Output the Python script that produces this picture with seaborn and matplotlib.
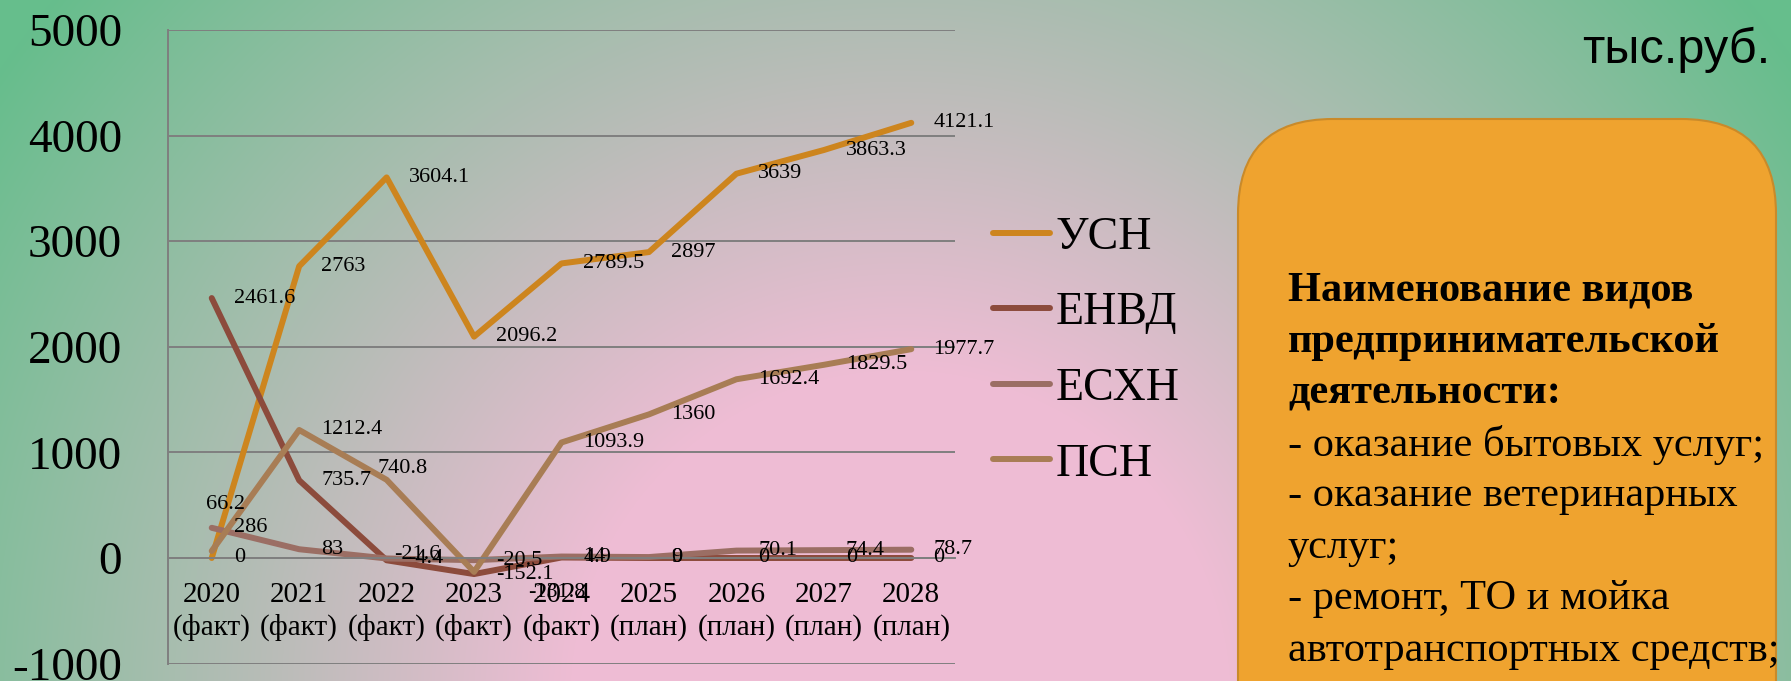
import numpy as np
import pandas as pd
import matplotlib
matplotlib.use("Agg")
import matplotlib.pyplot as plt
from matplotlib.patches import FancyBboxPatch
import seaborn as sns

# === Datos (tыс.руб.) ===
years = ["2020\n(факт)", "2021\n(факт)", "2022\n(факт)", "2023\n(факт)", "2024\n(факт)",
         "2025\n(план)", "2026\n(план)", "2027\n(план)", "2028\n(план)"]
series_names = ["УСН", "ЕНВД", "ЕСХН", "ПСН"]
usn = [0, 2763, 3604.1, 2096.2, 2789.5, 2897, 3639, 3863.3, 4121.1]
envd = [2461.6, 735.7, -21.6, -152.1, 4.9, 0, 0, 0, 0]
eshn = [286, 83, -4.4, -20.5, 14, 9, 70.1, 74.4, 78.7]
psn = [66.2, 1212.4, 740.8, -131.8, 1093.9, 1360, 1692.4, 1829.5, 1977.7]
colors = ["#CD851E", "#8C4B3C", "#9B6E64", "#A87D55"]

box_title = ["Наименование видов", "предпринимательской", "деятельности:"]
box_lines = ["- оказание бытовых услуг;", "- оказание ветеринарных", "услуг;",
             "- ремонт, ТО и мойка", "автотранспортных средств;"]
unit_text = "тыс.руб."

df = pd.DataFrame({
    "pos": list(range(len(years))) * 4,
    "value": usn + envd + eshn + psn,
    "series": np.repeat(series_names, len(years)),
})

W, H = 1791, 681
sns.set_style("white")
plt.rcParams["font.family"] = ["Liberation Serif", "DejaVu Serif"]
plt.rcParams["text.color"] = "black"
plt.rcParams["axes.unicode_minus"] = False

fig = plt.figure(figsize=(W / 100, H / 100), dpi=100)

# === Fondo degradado ===
ax_bg = fig.add_axes([0, 0, 1, 1])
yy, xx = np.mgrid[0:H, 0:W]
t = np.sqrt((xx - 900) ** 2 + (yy - 700) ** 2) / 1100
s = np.clip((t - 0.3) / 0.7, 0, 1)[..., None]
pink = np.array([238, 188, 212]) / 255
green = np.array([102, 190, 140]) / 255
grad = pink * (1 - s) + green * s
ax_bg.imshow(grad, extent=(0, W, H, 0), aspect="auto")
ax_bg.set_xlim(0, W)
ax_bg.set_ylim(H, 0)
ax_bg.axis("off")

box = FancyBboxPatch((1238, 119), 538, 800, boxstyle="round,pad=0,rounding_size=95",
                     facecolor="#EFA32F", edgecolor="#C98A2A", linewidth=1.5)
ax_bg.add_patch(box)
for i, line in enumerate(box_title + box_lines):
    ax_bg.text(1288, 286 + i * 51.4, line, fontsize=30.5, va="center_baseline",
               fontweight="bold" if i < len(box_title) else "normal")
ax_bg.text(1770, 50, unit_text, fontsize=35, ha="right", va="center",
           family=["Liberation Sans", "DejaVu Sans"])

# === Gráfico ===
ax = fig.add_axes([168 / W, 17.4 / H, (955 - 168) / W, (651 - 17.4) / H])
ax.patch.set_alpha(0)
sns.lineplot(data=df, x="pos", y="value", hue="series", palette=colors,
             linewidth=4.3, ax=ax, sort=False)
for ln in ax.lines:
    ln.set_solid_capstyle("round")
    ln.set_solid_joinstyle("round")

ax.set_xlim(-0.5, len(years) - 0.5)
ax.set_ylim(-1000, 5000)
ax.set_yticks(range(-1000, 5001, 1000))
ax.set_xticks(range(len(years)), labels=years)
ax.set_xticks(np.arange(-0.5, len(years)), minor=True)
ax.set_xlabel("")
ax.set_ylabel("")
ax.grid(axis="y", color="#7F7F7F", linewidth=1.4)
ax.grid(axis="x", visible=False)
for side in ["top", "right"]:
    ax.spines[side].set_visible(False)
ax.spines["left"].set_color("#7F7F7F")
ax.spines["left"].set_linewidth(1.4)
ax.spines["bottom"].set_position(("data", 0))
ax.spines["bottom"].set_color("#7F7F7F")
ax.spines["bottom"].set_linewidth(1.4)
ax.tick_params(axis="y", length=11, width=1.4, color="#7F7F7F", pad=22, labelsize=34,
               labelcolor="black")
ax.tick_params(axis="x", which="major", length=0, pad=17, labelsize=21, labelcolor="black")
ax.tick_params(axis="x", which="minor", length=6, width=1.4, color="#7F7F7F", direction="out")
for lab in ax.get_xticklabels():
    lab.set_linespacing(1.3)

# etiquetas de datos
nudge = {("ПСН", 0): (-6, 47), ("ПСН", 2): (-9, 11), ("ЕНВД", 2): (8, 6), ("ПСН", 3): (54, -21)}
for name, vals in zip(series_names, [usn, envd, eshn, psn]):
    for i, v in enumerate(vals):
        dx, dy = nudge.get((name, i), (22, 0))
        ax.annotate(f"{v:g}", (i, v), xytext=(dx, dy), textcoords="offset pixels",
                    fontsize=16, ha="left", va="center")

handles, labels = ax.get_legend_handles_labels()
ax.get_legend().remove()
leg = fig.legend(handles, labels, loc="center left", bbox_to_anchor=(993 / W, 1 - 351 / H),
                 frameon=False, fontsize=33, handlelength=1.25, handletextpad=0.12,
                 labelspacing=0.72, borderpad=0, borderaxespad=0)
for h in leg.legend_handles:
    h.set_linewidth(4.3)
    h.set_solid_capstyle("round")

fig.savefig("out.png", dpi=100)
